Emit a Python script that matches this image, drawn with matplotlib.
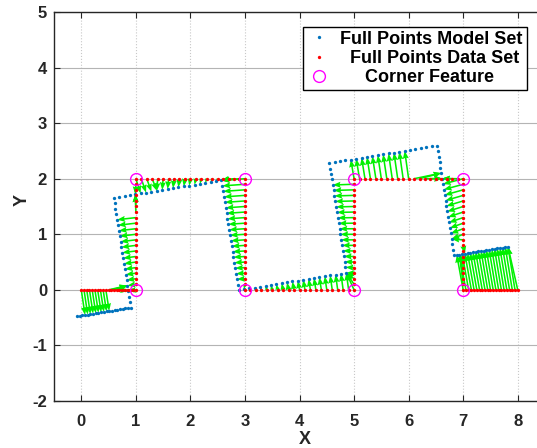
import numpy as np
import matplotlib
matplotlib.use("Agg")
import matplotlib.pyplot as plt

plt.rcParams['font.family'] = ['Liberation Sans', 'DejaVu Sans']
plt.rcParams['font.weight'] = 'bold'
plt.rcParams['axes.unicode_minus'] = False

# Full data set: points sampled along the step-shaped path
data_x = [
    0.00, 0.05, 0.10, 0.15, 0.20, 0.25, 0.30, 0.35, 0.40, 0.45,
    0.50, 0.55, 0.60, 0.65, 0.70, 0.75, 0.80, 0.85, 0.90, 0.95,
    1.00,
    1.0, 1.0, 1.0, 1.0, 1.0, 1.0, 1.0, 1.0, 1.0, 1.0,
    1.0, 1.0, 1.0, 1.0, 1.0, 1.0, 1.0, 1.0, 1.0, 1.0,
    1.1, 1.2, 1.3, 1.4, 1.5, 1.6, 1.7, 1.8, 1.9, 2.0,
    2.1, 2.2, 2.3, 2.4, 2.5, 2.6, 2.7, 2.8, 2.9, 3.0,
    3.0, 3.0, 3.0, 3.0, 3.0, 3.0, 3.0, 3.0, 3.0, 3.0,
    3.0, 3.0, 3.0, 3.0, 3.0, 3.0, 3.0, 3.0, 3.0, 3.0,
    3.1, 3.2, 3.3, 3.4, 3.5, 3.6, 3.7, 3.8, 3.9, 4.0,
    4.1, 4.2, 4.3, 4.4, 4.5, 4.6, 4.7, 4.8, 4.9, 5.0,
    5.0, 5.0, 5.0, 5.0, 5.0, 5.0, 5.0, 5.0, 5.0, 5.0,
    5.0, 5.0, 5.0, 5.0, 5.0, 5.0, 5.0, 5.0, 5.0, 5.0,
    5.1, 5.2, 5.3, 5.4, 5.5, 5.6, 5.7, 5.8, 5.9, 6.0,
    6.1, 6.2, 6.3, 6.4, 6.5, 6.6, 6.7, 6.8, 6.9, 7.0,
    7.0, 7.0, 7.0, 7.0, 7.0, 7.0, 7.0, 7.0, 7.0, 7.0,
    7.0, 7.0, 7.0, 7.0, 7.0, 7.0, 7.0, 7.0, 7.0, 7.0,
    7.05, 7.10, 7.15, 7.20, 7.25, 7.30, 7.35, 7.40, 7.45, 7.50,
    7.55, 7.60, 7.65, 7.70, 7.75, 7.80, 7.85, 7.90, 7.95, 8.00,
]
data_y = [
    0.0, 0.0, 0.0, 0.0, 0.0, 0.0, 0.0, 0.0, 0.0, 0.0,
    0.0, 0.0, 0.0, 0.0, 0.0, 0.0, 0.0, 0.0, 0.0, 0.0,
    0.0,
    0.1, 0.2, 0.3, 0.4, 0.5, 0.6, 0.7, 0.8, 0.9, 1.0,
    1.1, 1.2, 1.3, 1.4, 1.5, 1.6, 1.7, 1.8, 1.9, 2.0,
    2.0, 2.0, 2.0, 2.0, 2.0, 2.0, 2.0, 2.0, 2.0, 2.0,
    2.0, 2.0, 2.0, 2.0, 2.0, 2.0, 2.0, 2.0, 2.0, 2.0,
    1.9, 1.8, 1.7, 1.6, 1.5, 1.4, 1.3, 1.2, 1.1, 1.0,
    0.9, 0.8, 0.7, 0.6, 0.5, 0.4, 0.3, 0.2, 0.1, 0.0,
    0.0, 0.0, 0.0, 0.0, 0.0, 0.0, 0.0, 0.0, 0.0, 0.0,
    0.0, 0.0, 0.0, 0.0, 0.0, 0.0, 0.0, 0.0, 0.0, 0.0,
    0.1, 0.2, 0.3, 0.4, 0.5, 0.6, 0.7, 0.8, 0.9, 1.0,
    1.1, 1.2, 1.3, 1.4, 1.5, 1.6, 1.7, 1.8, 1.9, 2.0,
    2.0, 2.0, 2.0, 2.0, 2.0, 2.0, 2.0, 2.0, 2.0, 2.0,
    2.0, 2.0, 2.0, 2.0, 2.0, 2.0, 2.0, 2.0, 2.0, 2.0,
    1.9, 1.8, 1.7, 1.6, 1.5, 1.4, 1.3, 1.2, 1.1, 1.0,
    0.9, 0.8, 0.7, 0.6, 0.5, 0.4, 0.3, 0.2, 0.1, 0.0,
    0.0, 0.0, 0.0, 0.0, 0.0, 0.0, 0.0, 0.0, 0.0, 0.0,
    0.0, 0.0, 0.0, 0.0, 0.0, 0.0, 0.0, 0.0, 0.0, 0.0,
]

# Model set: the same point set under a rigid motion (rotation + shift)
model_rotation_deg = 9.0
model_shift = (-0.08, -0.475)

# Corner features detected on the data path
corner_x = [1, 1, 3, 3, 5, 5, 7, 7]
corner_y = [0, 2, 2, 0, 0, 2, 2, 0]

x_ticks = [0, 1, 2, 3, 4, 5, 6, 7, 8]
y_ticks = [-2, -1, 0, 1, 2, 3, 4, 5]

data = np.column_stack([data_x, data_y])
th = np.deg2rad(model_rotation_deg)
rot = np.array([[np.cos(th), -np.sin(th)], [np.sin(th), np.cos(th)]])
model = data @ rot.T + np.array(model_shift)

# nearest model point for every data point (correspondences)
d2 = ((data[:, None, :] - model[None, :, :]) ** 2).sum(axis=2)
nn = model[d2.argmin(axis=1)]
uv = nn - data

fig = plt.figure(figsize=(5.37, 4.48), dpi=100)
ax = fig.add_axes([54 / 537, 47 / 448, 491 / 537, 389 / 448])

ax.quiver(data[:, 0], data[:, 1], uv[:, 0], uv[:, 1], angles='xy',
          scale_units='xy', scale=1, color='#00f000', width=0.0032,
          headwidth=3.8, headlength=5, headaxislength=4.5, zorder=3)
ax.plot(model[:, 0], model[:, 1], 'o', color='#0072bd', markersize=2.4,
        markeredgewidth=0, label='Full Points Model Set', zorder=4)
ax.plot(data[:, 0], data[:, 1], 'o', color='#ff0000', markersize=2.4,
        markeredgewidth=0, label='  Full Points Data Set', zorder=5)
ax.plot(corner_x, corner_y, 'o', markerfacecolor='none',
        markeredgecolor='#ff00ff', markersize=8.5, markeredgewidth=1.0,
        label='     Corner Feature', zorder=6)

ax.set_xlim(-0.5, 8.5)
ax.set_ylim(-2, 5)
ax.set_xticks(x_ticks)
ax.set_yticks(y_ticks)
ax.yaxis.grid(True, color='#b4b4b4', linewidth=0.8, linestyle='-')
ax.xaxis.grid(True, color='#c8c8c8', linewidth=0.8, linestyle=':')
ax.set_axisbelow(True)

for s in ax.spines.values():
    s.set_color('#262626')
    s.set_linewidth(1.0)
ax.tick_params(axis='both', direction='in', length=4, width=0.8,
               top=True, right=True, colors='#262626', labelsize=12)
ax.tick_params(axis='x', pad=9)
ax.tick_params(axis='y', pad=5)
for lbl in ax.get_xticklabels() + ax.get_yticklabels():
    lbl.set_fontweight('bold')

ax.set_xlabel('X', fontsize=13, fontweight='bold', color='#262626')
ax.set_ylabel('Y', fontsize=13, fontweight='bold', color='#262626')
ax.xaxis.set_label_coords(0.511, -0.077)
ax.yaxis.set_label_coords(-0.048, 0.517)

leg = ax.legend(loc='upper left', bbox_to_anchor=(0.507, 0.962),
                borderaxespad=0, fontsize=13, frameon=True, fancybox=False,
                framealpha=1, edgecolor='black', handlelength=1.3,
                handletextpad=0.55, labelspacing=0.12, borderpad=0.22)
leg.get_frame().set_linewidth(1.0)
for t in leg.get_texts():
    t.set_fontweight('bold')

fig.savefig('out.png', dpi=100)
